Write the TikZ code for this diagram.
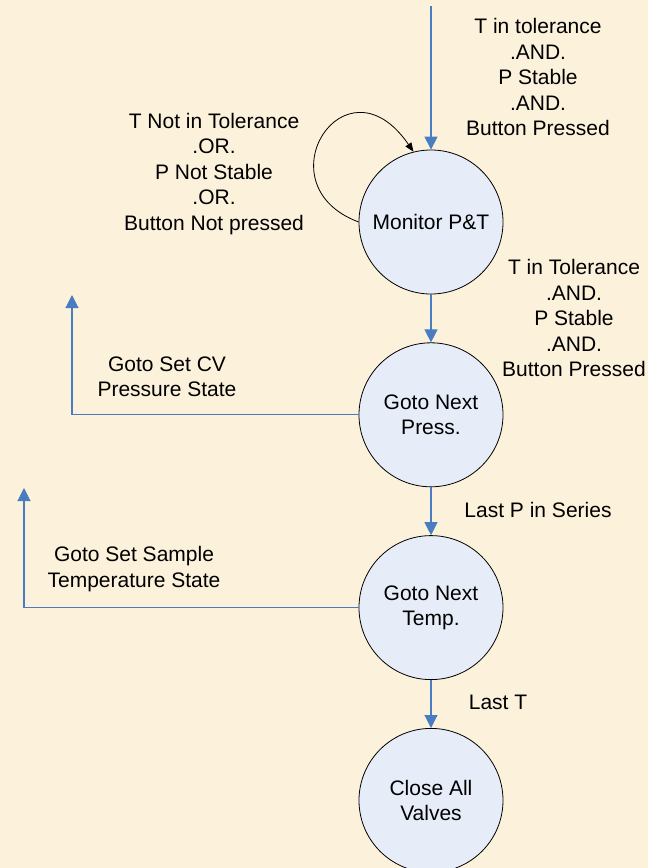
\documentclass[tikz,border=0pt]{standalone}
\usepackage{fontspec}
\setmainfont{Liberation Sans}
\usetikzlibrary{positioning, arrows.meta}

\definecolor{Pergament}{RGB}{252,242,219}	%Hintergrund
\definecolor{KreisBlau}{RGB}{230,237,249}	%Zustandsfuellung
\definecolor{PfeilBlau}{RGB}{74,124,194}	%Uebergaenge

\begin{document}
\begin{tikzpicture}
	[
	x=1pt, y=-1pt,
	StateCircle/.style={circle, draw=black, line width=0.8pt, fill=KreisBlau, minimum size=144pt, inner sep=0pt, align=center, font=\LabelFont},	%Zustaende
	TransArrow/.style={-{Triangle[length=13pt, width=13pt]}, draw=PfeilBlau, line width=1.1pt},	%Uebergangspfeil
	LoopArrow/.style={-{Triangle[length=9pt, width=7pt]}, draw=black, line width=0.8pt},		%Schleife
	CondLabel/.style={align=center, font=\LabelFont, inner sep=0pt}								%Bedingungen
	]

	%% Definitionen %%
	\def\LabelFont{\fontsize{21}{25.5}\selectfont};	%Schrift
	\def\Abstand{48pt};								%Abstand zwischen den Zustaenden

	% Hintergrund und Rahmen
	\fill[Pergament] (0,0) rectangle (648,868);
	\useasboundingbox (0,0) rectangle (648,868);

	% Zustaende
	\node[StateCircle] (mon) at (431,222) {Monitor P\&T};
	\node[StateCircle, below=\Abstand of mon]   (press) {Goto Next\\Press.};
	\node[StateCircle, below=\Abstand of press] (temp)  {Goto Next\\Temp.};
	\node[StateCircle, below=\Abstand of temp]  (close) {Close All\\Valves};

	% Freie Enden der Pfeile
	\coordinate (start) at (431,6);
	\coordinate (cvEnd) at (72,295);
	\coordinate (tEnd)  at (24,488);

	% Uebergaenge
	\draw[TransArrow] (start) -- (mon);
	\draw[TransArrow] (mon) -- (press);
	\draw[TransArrow] (press) -- (temp);
	\draw[TransArrow] (temp) -- (close);
	\draw[TransArrow] (press.west) -| (cvEnd);
	\draw[TransArrow] (temp.west) -| (tEnd);
	\draw[LoopArrow] (mon.180) .. controls (260,185) and (345,52) .. (mon.104);

	% Bedingungen
	\node[CondLabel] (cStart) at (538,77)  {T in tolerance\\.AND.\\P Stable\\.AND.\\Button Pressed};
	\node[CondLabel] (cLoop)  at (214,174) {T Not in Tolerance\\.OR.\\P Not Stable\\.OR.\\Button Not pressed};
	\node[CondLabel] (cMon)   at (574,318) {T in Tolerance\\.AND.\\P Stable\\.AND.\\Button Pressed};
	\node[CondLabel] (cCV)    at (167,377) {Goto Set CV\\Pressure State};
	\node[CondLabel] (cLastP) at (538,510) {Last P in Series};
	\node[CondLabel] (cSample) at (134,569) {Goto Set Sample\\Temperature State};
	\node[CondLabel] (cLastT) at (498,702) {Last T};
\end{tikzpicture}
\end{document}
